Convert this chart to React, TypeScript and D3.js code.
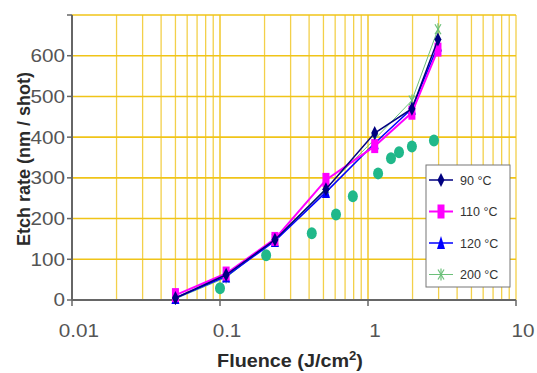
import React from 'react';
import * as d3 from 'd3';

// fluence (J/cm2) for the temperature series
const fluence = [0.05, 0.11, 0.235, 0.52, 1.11, 1.98, 2.97];
const rate90 = [5, 62, 148, 272, 410, 470, 640];
const rate110 = [12, 65, 150, 295, 378, 460, 615];
const rate120 = [5, 58, 145, 265, 385, 470, 625];
const rate200 = [3, 55, 150, 275, 395, 490, 665];

// separate circle series (no legend entry)
const circleFluence = [0.1, 0.205, 0.417, 0.608, 0.79, 1.17, 1.43, 1.62, 1.98, 2.79];
const circleRate = [29, 110, 164, 210, 255, 311, 348, 363, 377, 392];

const xTicks = [0.01, 0.1, 1, 10];
const yTicks = [0, 100, 200, 300, 400, 500, 600, 700];
const yLabels = ['0', '100', '200', '300', '400', '500', '600', ''];

const series = [
  { label: '90 °C', values: rate90, color: '#000080', marker: 'diamond', width: 1.5 },
  { label: '110 °C', values: rate110, color: '#ff00ff', marker: 'square', width: 2 },
  { label: '120 °C', values: rate120, color: '#0000ff', marker: 'triangle', width: 1.5 },
  { label: '200 °C', values: rate200, color: '#6cc07a', marker: 'star', width: 1 },
];

const width = 537;
const height = 373;
const margin = { top: 15, right: 21, bottom: 73, left: 72 };

const x = d3.scaleLog().domain([0.01, 10]).range([margin.left, width - margin.right]);
const y = d3.scaleLinear().domain([0, 700]).range([height - margin.bottom, margin.top]);

const minorX: number[] = [];
[0.01, 0.1, 1].forEach(d => {
  for (let k = 1; k <= 10; k++) minorX.push(d * k);
});

function Marker({ type, cx, cy, color }: { type: string; cx: number; cy: number; color: string }) {
  if (type === 'diamond') {
    return <path d={`M${cx},${cy - 7}L${cx + 3.5},${cy}L${cx},${cy + 7}L${cx - 3.5},${cy}Z`} fill={color} />;
  }
  if (type === 'square') {
    return <rect x={cx - 3.5} y={cy - 7} width={7} height={14} fill={color} />;
  }
  if (type === 'triangle') {
    return <path d={`M${cx},${cy - 7}L${cx + 4},${cy + 6}L${cx - 4},${cy + 6}Z`} fill={color} />;
  }
  return (
    <g stroke={color} strokeWidth={1.2}>
      <line x1={cx - 3} y1={cy - 5} x2={cx + 3} y2={cy + 5} />
      <line x1={cx + 3} y1={cy - 5} x2={cx - 3} y2={cy + 5} />
      <line x1={cx} y1={cy - 6} x2={cx} y2={cy + 6} />
    </g>
  );
}

export default function App() {
  const line = d3.line<number>().x((_, i) => x(fluence[i])).y(d => y(d));
  const legendX = 426;
  const legendY = 165;

  return (
    <svg width={width} height={height} style={{ position: 'absolute', left: 0, top: 0, background: '#fff' }}
      fontFamily="Liberation Sans, Arial, sans-serif">
      {/* grid */}
      {minorX.map((d, i) => (
        <line key={'gx' + i} x1={x(d)} x2={x(d)} y1={y(700)} y2={y(0)} stroke="#f3d04a" strokeWidth={1.3} />
      ))}
      {yTicks.map(d => (
        <line key={'gy' + d} x1={x(0.01)} x2={x(10)} y1={y(d)} y2={y(d)} stroke="#f0c419" strokeWidth={1.6} />
      ))}

      {/* axes */}
      <line x1={x(0.01)} x2={x(0.01)} y1={y(700)} y2={y(0)} stroke="#666" strokeWidth={2} />
      <line x1={x(0.01)} x2={x(10)} y1={y(0)} y2={y(0)} stroke="#666" strokeWidth={2} />
      {yTicks.map((d, i) => (
        <g key={'yt' + d}>
          <line x1={x(0.01) - 5} x2={x(0.01)} y1={y(d)} y2={y(d)} stroke="#666" strokeWidth={1.5} />
          <text transform={`translate(${x(0.01) - 7},${y(d)}) scale(1.15,1)`} dy="0.36em" textAnchor="end"
            fontSize={18} fill="#555">{yLabels[i]}</text>
        </g>
      ))}
      {xTicks.map(d => (
        <g key={'xt' + d}>
          <line x1={x(d)} x2={x(d)} y1={y(0)} y2={y(0) + 6} stroke="#666" strokeWidth={1.5} />
          <text transform={`translate(${x(d) + 7},${y(0) + 37}) scale(1.15,1)`} textAnchor="middle"
            fontSize={18} fill="#555">{d}</text>
        </g>
      ))}

      {/* titles */}
      <text transform="translate(290,367) scale(1.1,1)" textAnchor="middle" fontSize={18} fontWeight="bold" fill="#2a2a2a">
        Fluence  (J/cm<tspan dy="-7" fontSize={12}>2</tspan><tspan dy="7">)</tspan>
      </text>
      <text transform="translate(30,159) rotate(-90)" textAnchor="middle" fontSize={18} fontWeight="bold" fill="#2a2a2a">
        Etch rate  (nm / shot)
      </text>

      {/* circle series */}
      {circleFluence.map((d, i) => (
        <ellipse key={'c' + i} cx={x(d)} cy={y(circleRate[i])} rx={5} ry={6} fill="#20b88a" />
      ))}

      {/* temperature series */}
      {series.slice().reverse().map(s => (
        <g key={s.label}>
          <path d={line(s.values) || ''} fill="none" stroke={s.color} strokeWidth={s.width} />
          {s.values.map((v, i) => (
            <Marker key={i} type={s.marker} cx={x(fluence[i])} cy={y(v)} color={s.color} />
          ))}
        </g>
      ))}

      {/* legend */}
      <rect x={legendX} y={legendY} width={84} height={122} fill="#fff" stroke="#777" strokeWidth={1} />
      {series.map((s, i) => {
        const ly = legendY + 15 + i * 31.5;
        return (
          <g key={'lg' + s.label}>
            <line x1={legendX + 3} x2={legendX + 27} y1={ly} y2={ly} stroke={s.color} strokeWidth={s.width} />
            <Marker type={s.marker} cx={legendX + 15} cy={ly} color={s.color} />
            <text x={legendX + 34} y={ly} dy="0.36em" fontSize={12.5} fill="#333">{s.label}</text>
          </g>
        );
      })}
    </svg>
  );
}
